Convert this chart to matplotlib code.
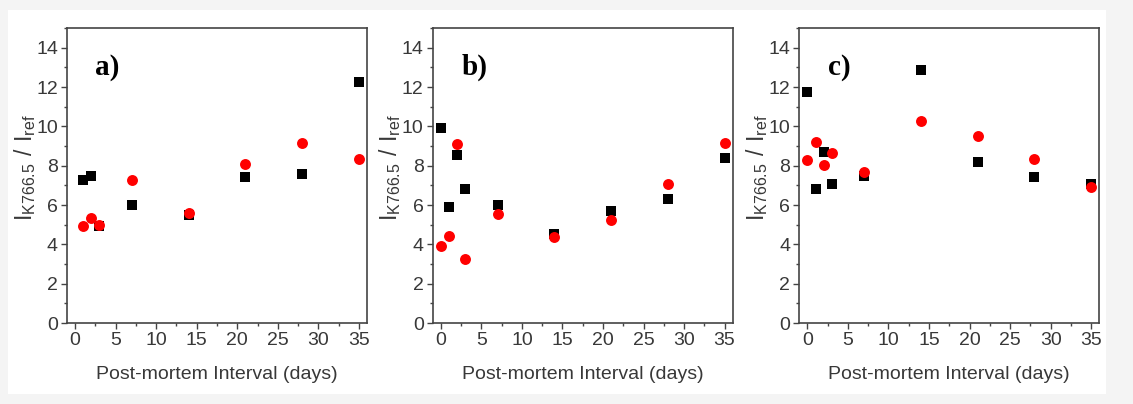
import matplotlib
matplotlib.use("Agg")
import matplotlib.pyplot as plt
from matplotlib.patches import Rectangle
from matplotlib.ticker import MultipleLocator

# Post-mortem interval (days) and intensity ratios for the three samples
days_a = [1, 2, 3, 7, 14, 21, 28, 35]
black_a = [7.28, 7.50, 4.95, 5.98, 5.50, 7.40, 7.60, 12.24]
red_a = [4.94, 5.33, 4.99, 7.25, 5.59, 8.07, 9.17, 8.36]

days_b = [0, 1, 2, 3, 7, 14, 21, 28, 35]
black_b = [9.90, 5.89, 8.52, 6.79, 5.98, 4.52, 5.72, 6.28, 8.40]
red_b = [3.94, 4.44, 9.11, 3.25, 5.55, 4.37, 5.23, 7.06, 9.17]

days_c = [0, 1, 2, 3, 7, 14, 21, 28, 35]
black_c = [11.77, 6.82, 8.72, 7.09, 7.48, 12.87, 8.21, 7.40, 7.09]
red_c = [8.31, 9.19, 8.04, 8.62, 7.67, 10.29, 9.50, 8.36, 6.92]

panel_labels = ["a)", "b)", "c)"]
x_label = "Post-mortem Interval (days)"
y_label = r"$\mathregular{I_{K766.5}\ /\ I_{ref}}$"

plt.rcParams["font.family"] = ["Liberation Sans", "DejaVu Sans"]
plt.rcParams["mathtext.fontset"] = "custom"
plt.rcParams["mathtext.rm"] = "Liberation Sans"

fig = plt.figure(figsize=(11.33, 4.04), dpi=100, facecolor="#f4f4f4")
fig.patches.append(Rectangle((8 / 1133, 10 / 404), 1098 / 1133, 384 / 404,
                             transform=fig.transFigure, facecolor="white",
                             edgecolor="none", zorder=-10))

lefts = [67 / 1133, 432.7 / 1133, 799.3 / 1133]
data = [(days_a, black_a, red_a), (days_b, black_b, red_b), (days_c, black_c, red_c)]
spine_col = "#444444"
text_col = "#383838"

for left, (d, blk, red), lab in zip(lefts, data, panel_labels):
    ax = fig.add_axes([left, 81 / 404, 300 / 1133, 295 / 404])
    ax.set_facecolor("white")
    ax.scatter(d, blk, marker="s", s=45, color="black", zorder=3,
               linewidths=0)
    ax.scatter(d, red, marker="o", s=62, color="#ff0000", zorder=4,
               linewidths=0)
    ax.set_xlim(-1, 36)
    ax.set_ylim(0, 15)
    ax.xaxis.set_major_locator(MultipleLocator(5))
    ax.xaxis.set_minor_locator(MultipleLocator(2.5))
    ax.yaxis.set_major_locator(MultipleLocator(2))
    ax.yaxis.set_minor_locator(MultipleLocator(1))
    ax.set_yticks(range(0, 15, 2))
    for s in ax.spines.values():
        s.set_color(spine_col)
        s.set_linewidth(1.2)
    ax.tick_params(which="both", direction="out", color=spine_col, width=1.0,
                   labelcolor=text_col, labelsize=14, pad=2,
                   top=False, right=False)
    ax.tick_params(which="major", length=4.5)
    ax.tick_params(which="minor", length=2.5)
    ax.set_xlabel(x_label, fontsize=14, color=text_col, labelpad=12)
    ax.set_ylabel(y_label, fontsize=16.5, color=text_col)
    ax.yaxis.set_label_coords(-0.098, 0.525)
    ax.text(0.095, 0.865, lab, transform=ax.transAxes, fontsize=21,
            fontweight="bold", family=["Liberation Serif", "DejaVu Serif"],
            color="black", ha="left", va="center", zorder=5)

fig.savefig("out.png", dpi=100, facecolor=fig.get_facecolor())
